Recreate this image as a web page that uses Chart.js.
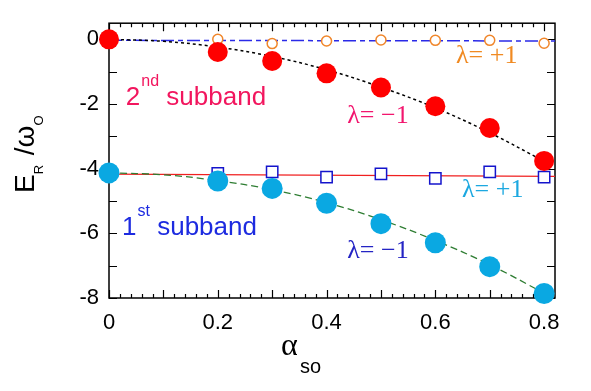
<!DOCTYPE html>
<html>
<head>
<meta charset="utf-8">
<script src="https://cdn.jsdelivr.net/npm/chart.js@4.4.1/dist/chart.umd.min.js"></script>
<style>
  html, body { margin: 0; padding: 0; background: #fff; }
  #wrap { width: 591px; height: 391px; }
</style>
</head>
<body>
<div id="wrap"><canvas id="chart" width="591" height="391"></canvas></div>
<script>
// measured points (alpha_so on x, E_R/omega_0 on y)
const alphaAll = [0, 0.2, 0.3, 0.4, 0.5, 0.6, 0.7, 0.8];
const alphaPlus = [0.2, 0.3, 0.4, 0.5, 0.6, 0.7, 0.8];
const secondMinus = [0, -0.39, -0.67, -1.05, -1.49, -2.07, -2.74, -3.76];
const secondPlus = [0, -0.13, -0.05, -0.02, -0.03, -0.03, -0.12];
const firstMinus = [-4.13, -4.38, -4.61, -5.07, -5.70, -6.29, -7.03, -7.86];
const firstPlus = [-4.15, -4.10, -4.26, -4.16, -4.30, -4.10, -4.26];

// guide curves
const curveAlpha = [0, 0.1, 0.2, 0.3, 0.4, 0.5, 0.6, 0.7, 0.8];
const secondFit = [0, -0.06, -0.24, -0.53, -0.94, -1.48, -2.12, -2.89, -3.77];
const firstFit = [-4.13, -4.19, -4.37, -4.65, -5.05, -5.58, -6.22, -6.97, -7.85];
const flatAlpha = [0, 0.82];
const secondFlat = [-0.03, -0.05];
const firstFlat = [-4.17, -4.24];

const xTickLabels = [0, 0.2, 0.4, 0.6, 0.8];
const yTickLabels = [0, -2, -4, -6, -8];

const pts = (xs, ys) => xs.map((x, i) => ({ x, y: ys[i] }));

const notes = [
  { x: 0.031, y: -2.03, main: "2", sup: "nd", rest: " subband", color: "#f2165e" },
  { x: 0.024, y: -6.06, main: "1", sup: "st", rest: " subband", color: "#1d2be0" },
  { x: 0.638, y: -0.72, lam: "λ= +1", color: "#f08a22" },
  { x: 0.438, y: -2.6, lam: "λ= \u22121", color: "#f2166e" },
  { x: 0.649, y: -4.87, lam: "λ= +1", color: "#1ca8e0" },
  { x: 0.438, y: -6.75, lam: "λ= \u22121", color: "#2424c4" },
];

const SANS = "'Liberation Sans', Arial, sans-serif";
const SERIF = "'Liberation Serif', 'Times New Roman', serif";

const framePlugin = {
  id: "frame",
  beforeDatasetsDraw(chart) {
    const { ctx, chartArea: a, scales } = chart;
    const xs = scales.x, ys = scales.y;
    ctx.save();
    ctx.strokeStyle = "#000";
    ctx.lineWidth = 1.5;
    ctx.strokeRect(a.left, a.top, a.right - a.left, a.bottom - a.top);
    ctx.lineWidth = 1.2;
    ctx.beginPath();
    for (let i = 0; i <= 41; i++) {
      const v = i * 0.02;
      const px = Math.round(xs.getPixelForValue(v)) + 0.5;
      if (px > a.right - 1) break;
      const len = i % 5 === 0 ? 8 : 4;
      ctx.moveTo(px, a.bottom); ctx.lineTo(px, a.bottom - len);
      ctx.moveTo(px, a.top); ctx.lineTo(px, a.top + len);
    }
    for (let v = 0; v >= -8; v--) {
      const py = Math.round(ys.getPixelForValue(v)) + 0.5;
      ctx.moveTo(a.left, py); ctx.lineTo(a.left + 8, py);
      ctx.moveTo(a.right, py); ctx.lineTo(a.right - 8, py);
    }
    ctx.stroke();
    ctx.restore();
  },
  afterDraw(chart) {
    const { ctx, scales } = chart;
    const xs = scales.x, ys = scales.y;
    ctx.save();
    ctx.textBaseline = "alphabetic";
    ctx.textAlign = "left";
    notes.forEach((n) => {
      let px = xs.getPixelForValue(n.x);
      const py = ys.getPixelForValue(n.y);
      ctx.fillStyle = n.color;
      if (n.lam) {
        ctx.font = "26px " + SERIF;
        ctx.fillText(n.lam, px, py);
        return;
      }
      ctx.font = "26px " + SANS;
      ctx.fillText(n.main, px, py);
      px += ctx.measureText(n.main).width + 1;
      ctx.font = "16px " + SANS;
      ctx.fillText(n.sup, px, py - 19);
      px += ctx.measureText(n.sup).width;
      ctx.font = "26px " + SANS;
      ctx.fillText(n.rest, px, py);
    });

    // y title, rotated
    ctx.fillStyle = "#000";
    ctx.translate(34, 193);
    ctx.rotate(-Math.PI / 2);
    let t = 0;
    ctx.font = "28px " + SANS;
    ctx.fillText("E", t, 0);
    t += ctx.measureText("E").width;
    ctx.font = "13px " + SANS;
    ctx.fillText("R", t, 9);
    t += ctx.measureText("R").width + 2;
    ctx.font = "28px " + SANS;
    ctx.fillText(" /ω", t, 0);
    t += ctx.measureText(" /ω").width;
    ctx.font = "13px " + SANS;
    ctx.fillText("O", t, 9);
    ctx.setTransform(1, 0, 0, 1, 0, 0);

    // x title
    ctx.font = "32px " + SERIF;
    ctx.fillText("α", 281, 355);
    ctx.font = "20px " + SANS;
    ctx.fillText("so", 300, 373);
    ctx.restore();
  },
};

new Chart(document.getElementById("chart"), {
  type: "scatter",
  data: {
    datasets: [
      {
        data: pts(alphaAll, secondMinus),
        pointRadius: 10, pointBackgroundColor: "#ff0000", pointBorderWidth: 0,
        showLine: false, clip: false, order: 1,
      },
      {
        data: pts(alphaPlus, secondPlus),
        pointRadius: 5, pointBackgroundColor: "#ffffff", pointBorderColor: "#f0862a",
        pointBorderWidth: 1.5, showLine: false, clip: false, order: 2,
      },
      {
        data: pts(alphaAll, firstMinus),
        pointRadius: 10.5, pointBackgroundColor: "#0aa8e2", pointBorderWidth: 0,
        showLine: false, clip: false, order: 1,
      },
      {
        data: pts(alphaPlus, firstPlus),
        pointStyle: "rect", pointRadius: 8, pointBackgroundColor: "#ffffff",
        pointBorderColor: "#1414cc", pointBorderWidth: 1.5,
        showLine: false, clip: false, order: 2,
      },
      {
        data: pts(curveAlpha, secondFit),
        showLine: true, pointRadius: 0, borderColor: "#000", borderWidth: 1.5,
        borderDash: [3, 3], tension: 0.4, order: 5,
      },
      {
        data: pts(flatAlpha, secondFlat),
        showLine: true, pointRadius: 0, borderColor: "#2a2ae8", borderWidth: 1.5,
        borderDash: [13, 4, 5, 4], order: 6,
      },
      {
        data: pts(curveAlpha, firstFit),
        showLine: true, pointRadius: 0, borderColor: "#2e7d32", borderWidth: 1.3,
        borderDash: [7, 4], tension: 0.4, order: 5,
      },
      {
        data: pts(flatAlpha, firstFlat),
        showLine: true, pointRadius: 0, borderColor: "#f02020", borderWidth: 1.3,
        order: 6,
      },
    ],
  },
  options: {
    responsive: false,
    devicePixelRatio: 1,
    animation: false,
    layout: { padding: { left: 0, right: 36, top: 13, bottom: 0 } },
    plugins: { legend: { display: false }, tooltip: { enabled: false } },
    scales: {
      x: {
        type: "linear", min: 0, max: 0.82,
        grid: { display: false, drawTicks: false },
        border: { display: false },
        afterFit: (s) => { s.height = 93; },
        afterBuildTicks: (s) => { s.ticks = xTickLabels.map((v) => ({ value: v })); },
        ticks: {
          padding: 12, color: "#000", maxRotation: 0,
          font: { family: SANS, size: 22 },
          callback: (v) => String(v),
        },
      },
      y: {
        type: "linear", min: -8, max: 0.5,
        grid: { display: false, drawTicks: false },
        border: { display: false },
        afterFit: (s) => { s.width = 109; },
        afterBuildTicks: (s) => { s.ticks = yTickLabels.map((v) => ({ value: v })); },
        ticks: {
          padding: 10, color: "#000",
          font: { family: SANS, size: 22 },
          callback: (v) => String(v),
        },
      },
    },
  },
  plugins: [framePlugin],
});
</script>
</body>
</html>
